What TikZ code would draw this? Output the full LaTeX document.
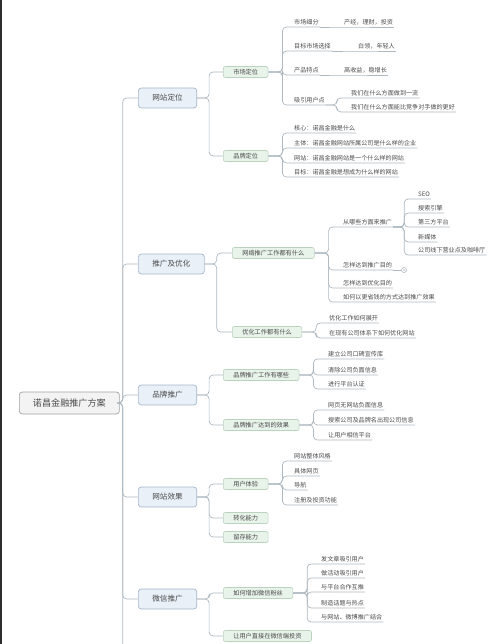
\documentclass[tikz,border=0pt]{standalone}
\usepackage{fontspec}
\setmainfont{Noto Sans CJK SC}
\usepackage{xcolor}
\usepackage{tikz}
\usetikzlibrary{positioning}
\definecolor{linec}{HTML}{AEB8C0}
\definecolor{txtc}{HTML}{4A4A4A}
\definecolor{rootf}{HTML}{F3F3F3}
\definecolor{rootd}{HTML}{A2A2A2}
\definecolor{mainf}{HTML}{E9F0F8}
\definecolor{maind}{HTML}{A6B6C9}
\definecolor{subf}{HTML}{E8F3EA}
\definecolor{subd}{HTML}{BBD2BF}
\definecolor{barc}{HTML}{2E2E2E}

\begin{document}
\begin{tikzpicture}[x=1pt, y=-1pt,
  conn/.style={draw=linec, line width=0.7pt, rounded corners=4pt},
  rootbox/.style={draw=rootd, fill=rootf, rounded corners=3pt, line width=0.7pt, text=txtc,
    font=\fontsize{9.1}{10}\selectfont, minimum width=100pt, minimum height=22pt, inner sep=0pt, anchor=west},
  mainbox/.style={draw=maind, fill=mainf, rounded corners=3pt, line width=0.7pt, text=txtc,
    font=\fontsize{7.6}{9}\selectfont, minimum height=20pt, inner xsep=14pt, inner ysep=0pt, anchor=west},
  subbox/.style={draw=subd, fill=subf, rounded corners=2pt, line width=0.6pt, text=txtc,
    font=\fontsize{6.2}{7}\selectfont, minimum height=11pt, inner xsep=10pt, inner ysep=0pt, anchor=west},
  leaf/.style={font=\fontsize{6.1}{7}\selectfont, text=txtc, inner xsep=1pt, inner ysep=1.8pt, anchor=south west}]
  \useasboundingbox (0,0) rectangle (500,644);
  \fill[barc] (0,0) rectangle (2,644);

  \node[rootbox] (root) at (19,403) {诺昌金融推广方案};
  \coordinate (trunkend) at (122,650);
  \draw[conn] (root.east) -- ++(3,0) |- (trunkend);
  \foreach \n/\y/\t in {site/98/网站定位, promo/264/推广及优化, brand/395/品牌推广, effect/497/网站效果, wechat/599/微信推广}{
    \node[mainbox] (\n) at (138,\y) {\t};
    \draw[conn] (root.east) -- ++(3,0) |- (\n.west);
  }

  \foreach \p/\n/\x/\y/\t in {site/mkt/223/72/市场定位, site/bpos/223/156/品牌定位,
      promo/net/232/253/网络推广工作都有什么, promo/opt/232/332/优化工作都有什么,
      brand/bwork/223/375/品牌推广工作有哪些, brand/bres/223/425/品牌推广达到的效果,
      effect/ux/223/484/用户体验, effect/conv/223/518/转化能力, effect/keep/223/537/留存能力,
      wechat/fans/223/593/如何增加微信粉丝, wechat/inv/223/636/让用户直接在微信端投资}{
    \node[subbox] (\n) at (\x,\y) {\t};
    \draw[conn] (\p.east) -- ++(12,0) |- (\n.west);
  }

  \foreach \p/\n/\x/\y/\t in {mkt/seg/293/27/市场细分, mkt/tgt/293/51/目标市场选择, mkt/feat/293/75/产品特点, mkt/attr/293/105/吸引用户点,
      bpos/core/293/133/核心：诺昌金融是什么, bpos/body/293/148/主体：诺昌金融网站所属公司是什么样的企业,
      bpos/web/293/163/网站：诺昌金融网站是一个什么样的网站, bpos/goal/293/177/目标：诺昌金融是想成为什么样的网站,
      net/src/342/227/从哪些方面来推广, net/how1/342/270/怎样达到推广目的, net/how2/342/288/怎样达到优化目的,
      net/how3/342/302/如何以更省钱的方式达到推广效果,
      opt/opt1/328/323/优化工作如何展开, opt/opt2/328/338/在现有公司体系下如何优化网站,
      bwork/bw1/327/359/建立公司口碑宣传库, bwork/bw2/327/375/清除公司负面信息, bwork/bw3/327/389/进行平台认证,
      bres/br1/327/410/网页无网站负面信息, bres/br2/327/425/搜索公司及品牌名出现公司信息, bres/br3/327/440/让用户相信平台,
      ux/ux1/293/461/网站整体风格, ux/ux2/293/476/具体网页, ux/ux3/293/490/导航, ux/ux4/293/505/注册及投资功能,
      fans/f1/320/564/发文章吸引用户, fans/f2/320/578/做活动吸引用户, fans/f3/320/592/与平台合作互推,
      fans/f4/320/608/制造话题与热点, fans/f5/320/622/与网站、微博推广结合}{
    \node[leaf] (\n) at (\x,\y) {\t};
    \draw[conn] (\p.east) -- ++(14,0) |- (\n.south west) -- (\n.south east);
  }

  % values on the same line
  \foreach \p/\n/\x/\y/\t in {seg/segv/343/27/产经，理财，投资, tgt/tgtv/357/51/白领，年轻人, feat/featv/343/75/高收益，稳增长}{
    \node[leaf] (\n) at (\x,\y) {\t};
    \draw[conn] (\p.south east) -- (\n.south west) -- (\n.south east);
  }

  \foreach \p/\n/\x/\y/\t in {attr/a1/350/98/我们在什么方面做到一流, attr/a2/350/112/我们在什么方面能比竞争对手做的更好,
      src/s1/417/199/SEO, src/s2/417/213/搜索引擎, src/s3/417/227/第三方平台, src/s4/417/242/新媒体,
      src/s5/417/255/公司线下营业点及咖啡厅}{
    \node[leaf] (\n) at (\x,\y) {\t};
    \draw[conn] (\p.south east) -- ++(11,0) |- (\n.south west) -- (\n.south east);
  }

  \node[circle, draw=linec, fill=white, line width=0.6pt, minimum size=5pt, inner sep=0pt,
    path picture={\fill[linec] (path picture bounding box.center) circle (0.8pt);}] (howmore) at (404,270) {};
  \draw[conn] (how1.south east) -- (howmore.west);
\end{tikzpicture}
\end{document}
